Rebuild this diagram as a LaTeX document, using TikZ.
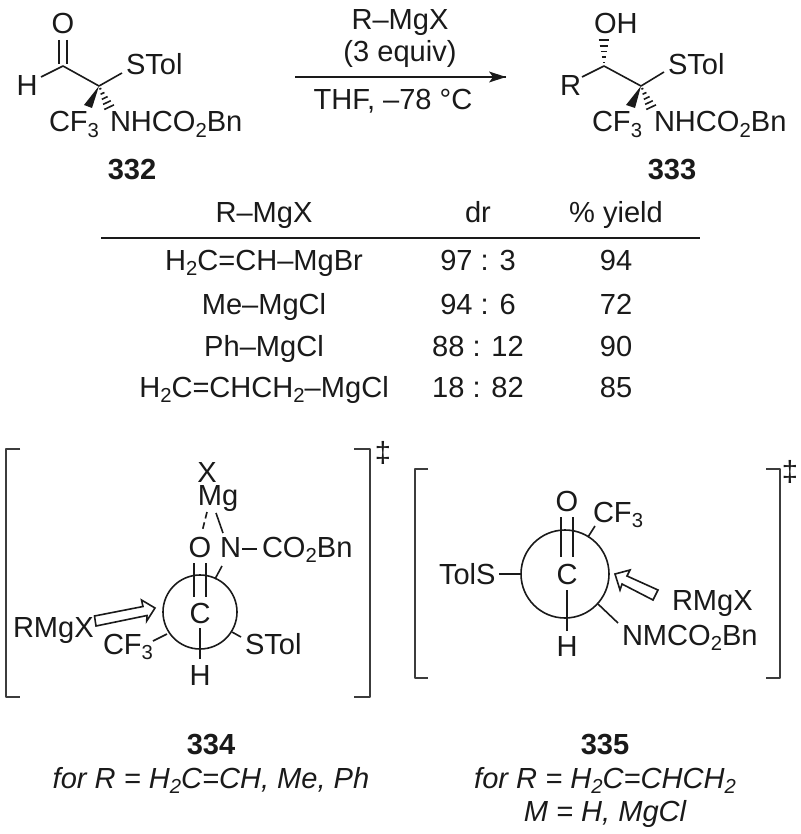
\documentclass[tikz,border=0pt]{standalone}
\usepackage{fontspec}
\setmainfont{Liberation Sans}
\usetikzlibrary{calc}
\definecolor{ink}{HTML}{1A1A1A}
\newcommand{\subs}[1]{\raisebox{-0.2em}{\fontsize{15.2}{16}\selectfont #1}}
\newcommand{\hashbond}[2]{\foreach \t/\w in {0.12/0.8pt,0.32/1.6pt,0.52/2.4pt,0.72/3.2pt,0.92/4pt}{\draw[bond] ($(#1)!\t!(#2)!\w!90:(#2)$) -- ($(#1)!\t!(#2)!\w!-90:(#2)$);}}
\tikzset{
  lbl/.style={anchor=base west,inner sep=0pt,outer sep=0pt,text=ink,font=\fontsize{21.8}{24}\selectfont},
  ctr/.style={anchor=base,inner sep=0pt,outer sep=0pt,text=ink,font=\fontsize{21.8}{24}\selectfont},
  cmpd/.style={ctr,font=\fontsize{21.8}{24}\selectfont\bfseries},
  captext/.style={ctr,font=\fontsize{21.8}{24}\selectfont\itshape},
  bond/.style={draw=ink,line width=1.2pt},
  brack/.style={draw=ink!85,line width=1.3pt,line join=round},
  openarrow/.style={draw=ink,fill=white,line width=1.2pt,line join=miter},
  ring/.style={draw=ink,line width=1.2pt}
}
\begin{document}
\begin{tikzpicture}[x=0.75pt,y=-0.75pt]
\useasboundingbox[fill=white] (0,0) rectangle (800,834);
% --- 332
\node[ctr] (o1) at (63,33.5) {O};
\node[ctr] (h1) at (27,96) {H};
\node[lbl] (s1) at (126,75) {STol};
\node[lbl] (cf1) at (49,132) {CF\subs{3}};
\node[lbl] (n1) at (110,132) {NHCO\subs{2}Bn};
\node[cmpd] (l332) at (132,180) {332};
\coordinate (a1) at (63,66);
\coordinate (c1) at (99,86);
\coordinate (o1a) at (59,40); \coordinate (o1b) at (67,40);
\coordinate (a1a) at (59,64); \coordinate (a1b) at (67,64);
\coordinate (h1e) at (41,77);
\coordinate (s1e) at (122,73);
\coordinate (w1a) at (84,105); \coordinate (w1b) at (92,108);
\coordinate (d1e) at (110,109);
\draw[bond] (o1a) -- (a1a);
\draw[bond] (o1b) -- (a1b);
\draw[bond,line join=round] (h1e) -- (a1) -- (c1) -- (s1e);
\fill[ink] (c1) -- (w1a) -- (w1b) -- cycle;
\hashbond{c1}{d1e}
% --- arrow
\node[ctr] (r1) at (400,30) {R–MgX};
\node[ctr] (r2) at (400,62) {(3 equiv)};
\node[ctr] (r3) at (393,110) {THF, –78 °C};
\coordinate (ar1) at (295,77);
\coordinate (ar2) at (506,77);
\draw[bond] (ar1) -- (ar2);
\fill[ink] (506,77) -- (489,71.5) -- (493,77) -- (489,82.5) -- cycle;
% --- 333
\node[lbl] (o2) at (594,33.5) {OH};
\node[lbl] (rr) at (560,96) {R};
\node[lbl] (s2) at (668,75) {STol};
\node[lbl] (cf2) at (592,132) {CF\subs{3}};
\node[lbl] (n2) at (654,132) {NHCO\subs{2}Bn};
\node[cmpd] (l333) at (672,180) {333};
\coordinate (a2) at (604,66);
\coordinate (c2) at (641,86);
\coordinate (h2e) at (604,38);
\coordinate (r2e) at (582,77);
\coordinate (s2e) at (664,72);
\coordinate (w2a) at (626,105); \coordinate (w2b) at (635,108);
\coordinate (d2e) at (652,109);
\draw[bond,line join=round] (r2e) -- (a2) -- (c2) -- (s2e);
\fill[ink] (c2) -- (w2a) -- (w2b) -- cycle;
\hashbond{c2}{d2e}
\hashbond{a2}{h2e}
% --- table
\node[ctr] (th1) at (264,223) {R–MgX};
\node[ctr] (th2) at (478,223) {dr};
\node[ctr] (th3) at (616,223) {\% yield};
\coordinate (ru1) at (101,238); \coordinate (ru2) at (700,238);
\draw[bond] (ru1) -- (ru2);
\node[ctr] (a11) at (264,270) {H\subs{2}C=CH–MgBr};
\node[ctr] (a12) at (478,270) {97 : 3};
\node[ctr] (a13) at (616,270) {94};
\node[ctr] (a21) at (264,314) {Me–MgCl};
\node[ctr] (a22) at (478,314) {94 : 6};
\node[ctr] (a23) at (616,314) {72};
\node[ctr] (a31) at (264,356) {Ph–MgCl};
\node[ctr] (a32) at (478,356) {88 : 12};
\node[ctr] (a33) at (616,356) {90};
\node[ctr] (a41) at (264,397) {H\subs{2}C=CHCH\subs{2}–MgCl};
\node[ctr] (a42) at (478,397) {18 : 82};
\node[ctr] (a43) at (616,397) {85};
% --- 334
\draw[brack] (20,449) -- (6,449) -- (6,697) -- (20,697);
\draw[brack] (354,449) -- (370,449) -- (370,697) -- (354,697);
\node[ctr] (dd1) at (383,462) {‡};
\node[ctr] (x3) at (207,482) {X};
\node[ctr] (mg3) at (218,505) {Mg};
\node[ctr] (o3) at (200,557) {O};
\node[lbl] (n3) at (220,557) {N};
\node[lbl] (co3) at (262,557) {CO\subs{2}Bn};
\node[ctr] (c3) at (200,623) {C};
\node[ctr] (h3) at (200,685) {H};
\node[lbl] (s3) at (245,654) {STol};
\node[lbl] (cf3) at (103,654) {CF\subs{3}};
\node[lbl] (rm3) at (13,637) {RMgX};
\node[ring,circle,minimum size=55.5pt,inner sep=0pt] (ci3) at (200,612) {};
\coordinate (p1) at (207,512); \coordinate (p2) at (202,532);
\coordinate (p3) at (216,513); \coordinate (p4) at (223,533);
\coordinate (p5) at (242,549); \coordinate (p6) at (257,549);
\coordinate (p7) at (194,563); \coordinate (p8) at (194,597);
\coordinate (p9) at (206,563); \coordinate (p10) at (206,597);
\coordinate (p11) at (200,628); \coordinate (p12) at (200,659);
\coordinate (p13) at (215,579); \coordinate (p14) at (222,566);
\coordinate (p15) at (167,634); \coordinate (p16) at (153,641);
\coordinate (p17) at (232,632); \coordinate (p18) at (241,637);
\draw[bond,dash pattern=on 5pt off 3pt] (p1) -- (p2);
\draw[bond] (p3) -- (p4);
\draw[bond] (p5) -- (p6);
\draw[bond] (p7) -- (p8);
\draw[bond] (p9) -- (p10);
\draw[bond] (p11) -- (p12);
\draw[bond] (p13) -- (p14);
\draw[bond] (p15) -- (p16);
\draw[bond] (p17) -- (p18);
\draw[openarrow] (94.5,616) -- (96,626) -- (147,615.5) -- (146.7,621) -- (155,608) -- (141.5,600) -- (143,606.5) -- cycle;
% --- 335
\draw[brack] (428,469) -- (415,469) -- (415,678) -- (428,678);
\draw[brack] (766,469) -- (780,469) -- (780,678) -- (766,678);
\node[ctr] (dd2) at (790,481) {‡};
\node[ctr] (o4) at (567,511) {O};
\node[lbl] (cf4) at (593,522) {CF\subs{3}};
\node[ctr] (c4) at (567,584) {C};
\node[ctr] (h4) at (567,656) {H};
\node[lbl] (s4) at (439,584) {TolS};
\node[lbl] (n4) at (622,645) {NMCO\subs{2}Bn};
\node[lbl] (rm4) at (672,610) {RMgX};
\node[ring,circle,minimum size=66pt,inner sep=0pt] (ci4) at (565,574) {};
\coordinate (q1) at (561,517); \coordinate (q2) at (561,557);
\coordinate (q3) at (573,517); \coordinate (q4) at (573,557);
\coordinate (q5) at (567,590); \coordinate (q6) at (567,631);
\coordinate (q7) at (588,537); \coordinate (q8) at (595,526);
\coordinate (q9) at (499,574); \coordinate (q10) at (520,574);
\coordinate (q11) at (598,604); \coordinate (q12) at (618,623);
\draw[bond] (q1) -- (q2);
\draw[bond] (q3) -- (q4);
\draw[bond] (q5) -- (q6);
\draw[bond] (q7) -- (q8);
\draw[bond] (q9) -- (q10);
\draw[bond] (q11) -- (q12);
\draw[openarrow] (615,574) -- (630,570) -- (627,576) -- (658,590) -- (653,600) -- (622,584) -- (620,590) -- cycle;
% --- captions
\node[cmpd] (l334) at (211,754) {334};
\node[captext] (cp1) at (211,788) {for R = H\subs{2}C=CH, Me, Ph};
\node[cmpd] (l335) at (605,754) {335};
\node[captext] (cp2) at (605,788) {for R = H\subs{2}C=CHCH\subs{2}};
\node[captext] (cp3) at (605,821) {M = H, MgCl};
\end{tikzpicture}
\end{document}
